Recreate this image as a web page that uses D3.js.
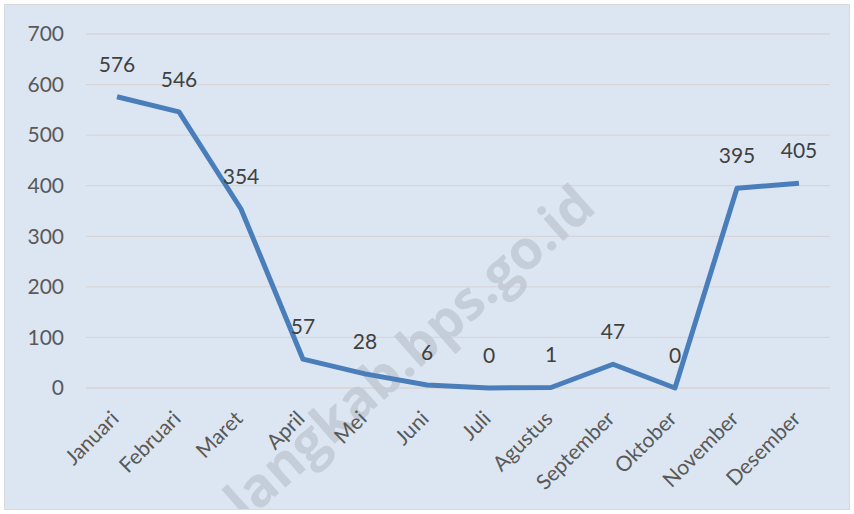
<!DOCTYPE html>
<html>
<head>
<meta charset="utf-8">
<script src="https://cdn.jsdelivr.net/npm/d3@7"></script>
<style>
  body { margin: 0; background: #fff; }
  svg { display: block; font-family: Lato, "Open Sans", sans-serif; }
</style>
</head>
<body>
<div id="chart"></div>
<script>
// data
const months = ['Januari', 'Februari', 'Maret', 'April', 'Mei', 'Juni', 'Juli',
  'Agustus', 'September', 'Oktober', 'November', 'Desember'];
const values = [576, 546, 354, 57, 28, 6, 0, 1, 47, 0, 395, 405];
const yTicks = [0, 100, 200, 300, 400, 500, 600, 700];

const W = 854, H = 514;
const margin = { top: 34, right: 24, bottom: 126, left: 86 };

const svg = d3.select('#chart').append('svg')
  .attr('width', W)
  .attr('height', H);

// chart area box
svg.append('rect')
  .attr('x', 4.5).attr('y', 4.5)
  .attr('width', W - 9).attr('height', H - 9)
  .attr('fill', '#dce6f2')
  .attr('stroke', '#d9d9d9');

const x = d3.scaleBand()
  .domain(months)
  .range([margin.left, W - margin.right]);

const y = d3.scaleLinear()
  .domain([0, 700])
  .range([H - margin.bottom, margin.top]);

// gridlines
svg.append('g')
  .selectAll('line')
  .data(yTicks)
  .join('line')
  .attr('x1', margin.left)
  .attr('x2', W - margin.right)
  .attr('y1', d => y(d))
  .attr('y2', d => y(d))
  .attr('stroke', '#d9d5d6')
  .attr('stroke-width', 1.3);

// watermark (clipped to the chart box, like the original)
svg.append('clipPath').attr('id', 'box')
  .append('rect')
  .attr('x', 5).attr('y', 5)
  .attr('width', W - 10).attr('height', H - 10);

svg.append('g')
  .attr('clip-path', 'url(#box)')
  .append('text')
  .attr('transform', 'translate(598,210) rotate(-41.6)')
  .attr('text-anchor', 'end')
  .attr('font-size', 54)
  .attr('font-weight', 700)
  .attr('font-family', '"Open Sans", sans-serif')
  .attr('fill', '#bfc8d4')
  .attr('fill-opacity', 0.85)
  .text('langkab.bps.go.id');

// y axis labels
const yAxis = d3.axisLeft(y).tickValues(yTicks).tickSize(0).tickPadding(22);
svg.append('g')
  .attr('transform', `translate(${margin.left},0)`)
  .call(yAxis)
  .call(g => g.select('.domain').remove())
  .selectAll('text')
  .attr('font-size', 21)
  .attr('font-family', 'Lato, sans-serif')
  .attr('fill', '#595959');

// x axis labels, rotated
const xAxis = d3.axisBottom(x).tickSize(0).tickPadding(0);
svg.append('g')
  .attr('transform', `translate(0,${H - margin.bottom})`)
  .call(xAxis)
  .call(g => g.select('.domain').remove())
  .selectAll('text')
  .attr('font-size', 21)
  .attr('font-family', 'Lato, sans-serif')
  .attr('fill', '#595959')
  .attr('text-anchor', 'end')
  .attr('dy', 0)
  .attr('transform', 'translate(3,32) rotate(-45)');

// the line
const line = d3.line()
  .x((d, i) => x(months[i]) + x.bandwidth() / 2)
  .y(d => y(d));

svg.append('path')
  .datum(values)
  .attr('d', line)
  .attr('fill', 'none')
  .attr('stroke', '#4a7ebb')
  .attr('stroke-width', 5)
  .attr('stroke-linejoin', 'round');

// data labels
svg.append('g')
  .selectAll('text')
  .data(values)
  .join('text')
  .attr('x', (d, i) => x(months[i]) + x.bandwidth() / 2)
  .attr('y', d => y(d) - 25)
  .attr('text-anchor', 'middle')
  .attr('font-size', 21)
  .attr('font-family', 'Lato, sans-serif')
  .attr('fill', '#404040')
  .text(d => d);
</script>
</body>
</html>
